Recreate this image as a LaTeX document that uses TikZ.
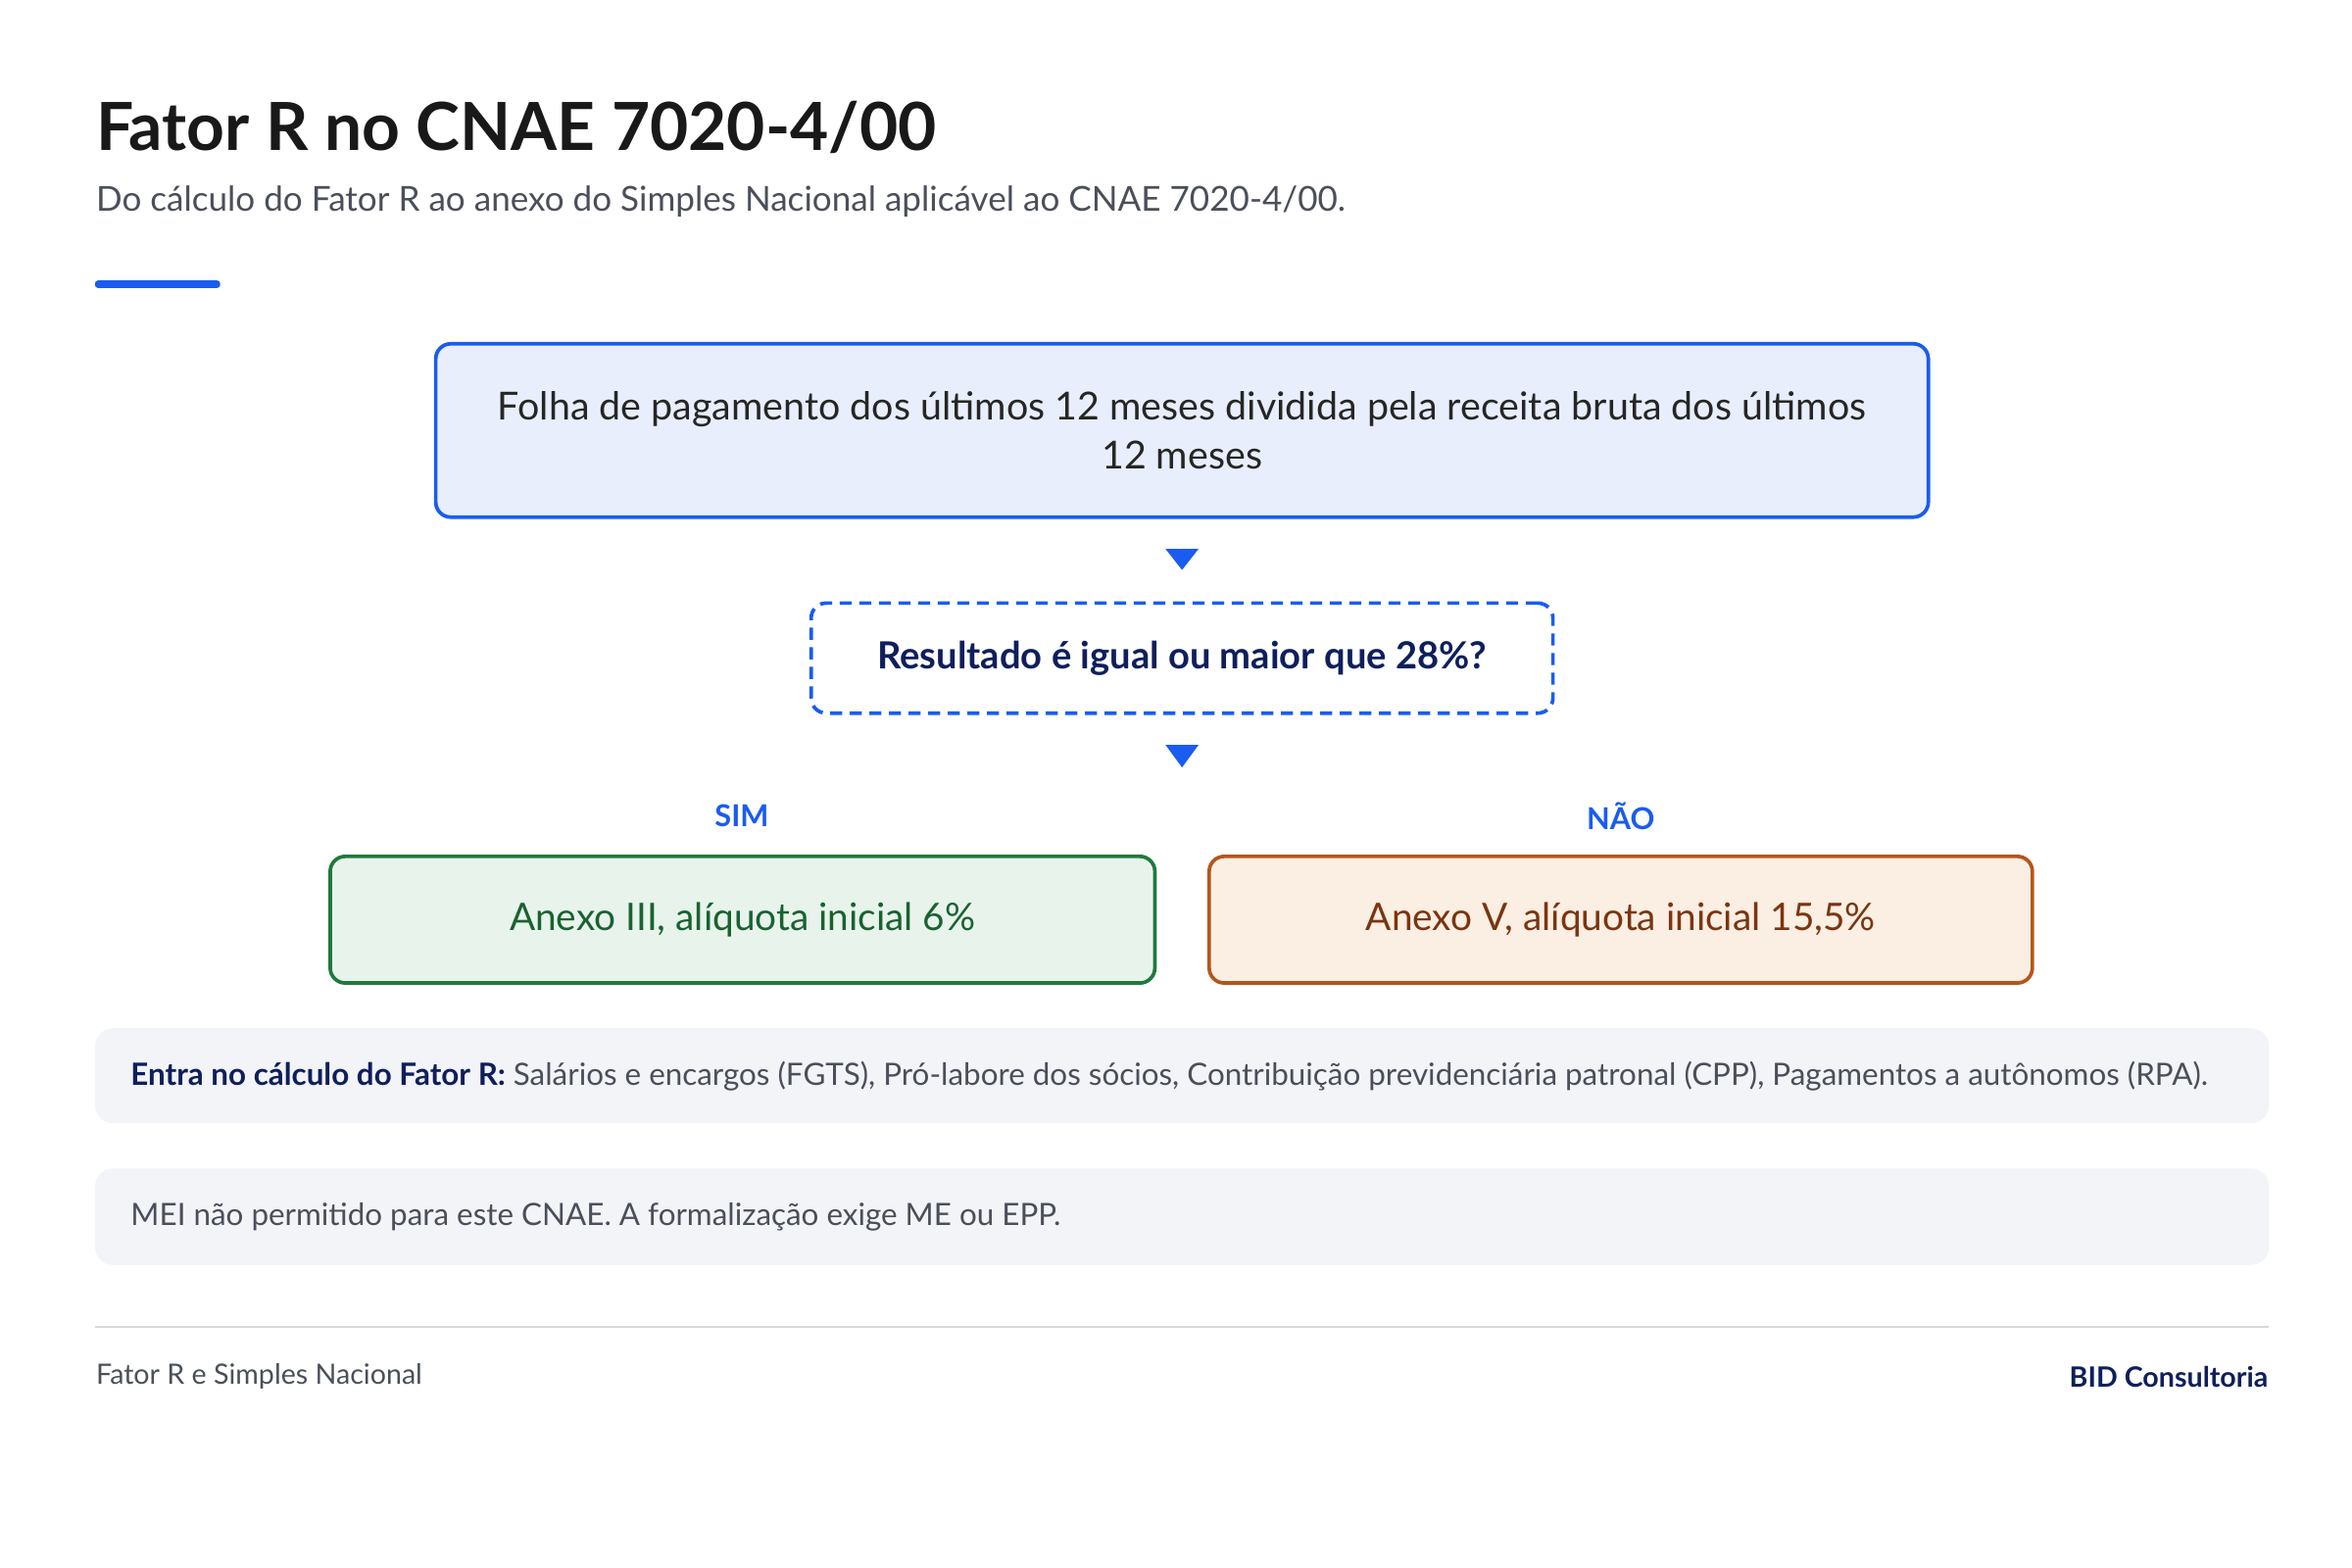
\documentclass[tikz,border=0pt]{standalone}
\usepackage{fontspec}
\setmainfont{Lato}
\usetikzlibrary{positioning}
\definecolor{bidblue}{HTML}{1A5CF0}
\definecolor{bidnavy}{HTML}{0F1F5C}
\definecolor{lightblue}{HTML}{E8EEFC}
\definecolor{simfill}{HTML}{E8F3EC}
\definecolor{simline}{HTML}{1F7A3C}
\definecolor{naofill}{HTML}{FBEEE3}
\definecolor{naoline}{HTML}{B5561A}
\definecolor{naotext}{HTML}{7A3510}
\definecolor{panel}{HTML}{F3F4F8}
\definecolor{grtext}{HTML}{4A4F5A}
\tikzset{every picture/.style={line width=0.75pt}}
\begin{document}
\begin{tikzpicture}[x=0.5pt,y=0.5pt,yscale=-1,
  box/.style={draw, rounded corners=5pt, line width=1.2pt, align=center, inner sep=0pt},
  tri/.style={fill=bidblue},
  lbl/.style={font=\bfseries\fontsize{10}{12}\selectfont, text=bidblue},
  panel/.style={fill=panel, rounded corners=6pt}]
	\path[use as bounding box] (0,0) rectangle (1560,1040);

	% Title
	\node[anchor=base west, inner sep=0pt, font=\bfseries\fontsize{22}{26}\selectfont, text=black!90] (title) at (63,100) {Fator R no CNAE 7020-4/00};
	\node[anchor=base west, inner sep=0pt, font=\fontsize{11.4}{13}\selectfont, text=grtext] (sub) at (63,140) {Do cálculo do Fator R ao anexo do Simples Nacional aplicável ao CNAE 7020-4/00.};
	\fill[bidblue, rounded corners=1pt] (63,186) rectangle (146,191);

	% Step 1
	\node[box, draw=bidblue, fill=lightblue, minimum width=495pt, minimum height=57.5pt, font=\fontsize{12.8}{16}\selectfont, text=black!85] (folha) at (784,285.5) {Folha de pagamento dos últimos 12 meses dividida pela receita bruta dos últimos\\12 meses};
	\fill[tri] (773,364) -- (795,364) -- (784,378) -- cycle;

	% Question
	\node[box, draw=bidblue, dashed, dash pattern=on 4pt off 2.5pt, minimum width=246pt, minimum height=36.5pt, font=\bfseries\fontsize{12.4}{14}\selectfont, text=bidnavy] (quest) at (784,436.5) {Resultado é igual ou maior que 28\%?};
	\fill[tri] (773,494) -- (795,494) -- (784,509) -- cycle;

	% Outcomes
	\node[lbl] (sim) at (492,541) {SIM};
	\node[lbl] (nao) at (1075,541) {NÃO};
	\node[box, draw=simline, fill=simfill, minimum width=273.5pt, minimum height=42pt, font=\fontsize{12.6}{14}\selectfont, text=simline!80!black] (anexo3) at (492.5,610) {Anexo III, alíquota inicial 6\%};
	\node[box, draw=naoline, fill=naofill, minimum width=273pt, minimum height=42pt, font=\fontsize{12.6}{14}\selectfont, text=naotext] (anexo5) at (1075,610) {Anexo V, alíquota inicial 15,5\%};

	% Notes
	\fill[panel] (63,682) rectangle (1505,745);
	\node[anchor=west, inner sep=0pt, font=\fontsize{10.2}{12}\selectfont, text=grtext] (entra) at (86,714) {\textcolor{bidnavy}{\bfseries Entra no cálculo do Fator R:} Salários e encargos (FGTS), Pró-labore dos sócios, Contribuição previdenciária patronal (CPP), Pagamentos a autônomos (RPA).};
	\fill[panel] (63,775) rectangle (1505,839);
	\node[anchor=west, inner sep=0pt, font=\fontsize{10.2}{12}\selectfont, text=grtext] (mei) at (86,807) {MEI não permitido para este CNAE. A formalização exige ME ou EPP.};

	% Footer
	\draw[black!15, line width=0.6pt] (63,880) -- (1505,880);
	\node[anchor=west, inner sep=0pt, font=\fontsize{9.3}{11}\selectfont, text=grtext] (foot) at (63,913) {Fator R e Simples Nacional};
	\node[anchor=east, inner sep=0pt, font=\bfseries\fontsize{9.3}{11}\selectfont, text=bidnavy] (brand) at (1505,913) {BID Consultoria};
\end{tikzpicture}
\end{document}
